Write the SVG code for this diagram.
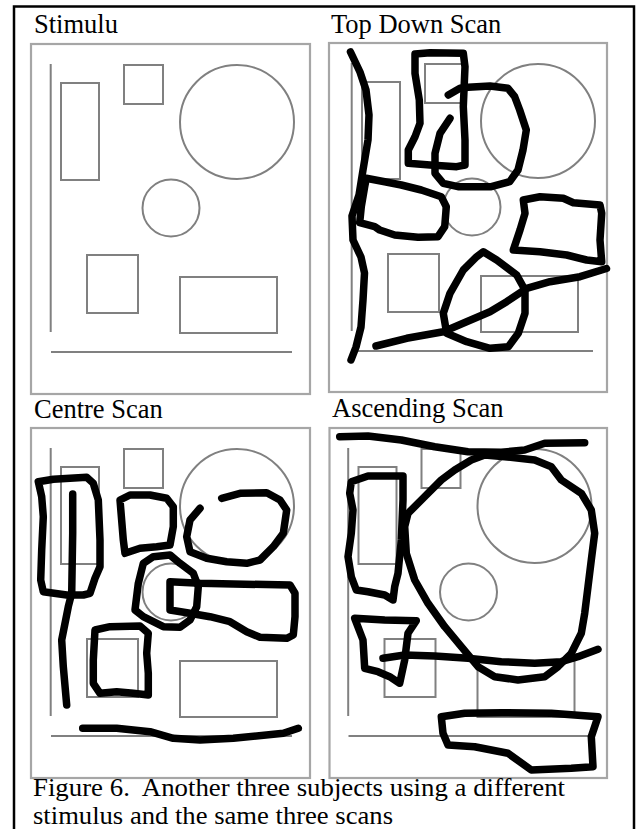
<svg xmlns="http://www.w3.org/2000/svg" xmlns:xlink="http://www.w3.org/1999/xlink" width="638" height="829" viewBox="0 0 638 829">
<style>
.lbl{font-family:"Liberation Serif","Times New Roman",serif;font-size:26.5px;fill:#000}
.cap{font-family:"Liberation Serif","Times New Roman",serif;font-size:25px;fill:#000}
.frame{fill:none;stroke:#a6a6a6;stroke-width:2.2}
.shp{fill:none;stroke:#808080;stroke-width:2}
.scr{fill:none;stroke:#000;stroke-width:7.5;stroke-linecap:round;stroke-linejoin:round}
</style>
<defs>
<g id="stim">
<line class="shp" x1="50.7" y1="64" x2="50.7" y2="332"/>
<rect class="shp" x="61" y="83" width="38" height="97"/>
<rect class="shp" x="124" y="65" width="39" height="39"/>
<circle class="shp" cx="237" cy="122" r="57"/>
<circle class="shp" cx="171" cy="208" r="28.5"/>
<rect class="shp" x="87" y="255" width="51" height="58"/>
<rect class="shp" x="180" y="277" width="97" height="56"/>
<line class="shp" x1="51" y1="352" x2="292" y2="352"/>
</g>
</defs>
<rect id="border" x="14" y="6.5" width="620" height="840" fill="#fff" stroke="#000" stroke-width="2.5"/>

<g id="stimulus">
<text class="lbl" x="34" y="33">Stimulu</text>
<rect class="frame" x="31" y="44" width="279" height="350"/>
<use xlink:href="#stim"/>
</g>

<g id="top-down">
<text class="lbl" x="331" y="33">Top Down Scan</text>
<rect class="frame" x="329" y="43" width="278" height="349"/>
<use xlink:href="#stim" transform="translate(301,-1)"/>
<g class="scans">
<path class="scr" d="M350.5,52 L360,72 L366,90 L369,115 L368,140 L363,170 L359,195 L352,216 L353,240 L361,257 L364.5,273 L363,300 L361,327 L356,347 L351,360"/>
<path class="scr" d="M415,54 L430,52.7 L463.3,53.3 L465,66.7 L463.3,106.7 L465,140 L465,165 L456.7,166.7 L430,165 L408.3,163.3 L408.3,150 L415,136.7 L420,123.3 L419.3,100 L415,73.3 Z"/>
<path class="scr" d="M450,118.3 L440,133.3 L435,153.3 L435,173.3 L443.3,183.3 L458,186.7 L491.3,186.7 L509.7,181.7 L518,170 L523,150 L526.3,130 L519.7,110 L514.7,96.7 L508,88.3 L490,86 L468,87.3 L460,88.3 L448.3,95"/>
<path class="scr" d="M366.3,178.3 L384.7,181.7 L401.3,185 L421.3,190 L441.3,196.7 L446.3,206.7 L444.7,226.7 L438,236.7 L418,237.3 L394.7,235 L379.7,230 L374.7,226.7 L359.7,222.7 L361.3,206.7 L364.7,186.7 Z"/>
<path class="scr" d="M523.3,200 L540,196.7 L563.3,198.3 L573.3,202.7 L600,205 L601.7,213.3 L600,240 L601.7,261.7 L586.7,260 L566.7,255 L540,251.7 L513.3,250 L520,230 L525,213.3 Z"/>
<path class="scr" d="M483.3,251.7 L496.7,260 L516.7,275 L525,290 L525,313.3 L518.3,333.3 L508.3,346.7 L490,348.3 L466.7,341.7 L446.7,333.3 L443.3,313.3 L450,293.3 L463.3,270 L476.7,256.7 Z"/>
<path class="scr" d="M376,346 L406.7,338.3 L443.3,331.7 L466,322 L490,311.7 L506.7,301.7 L526.7,288.3 L550,281.7 L580,276.7 L606.5,268.5"/>
</g>
</g>

<g id="centre">
<text class="lbl" x="34" y="418">Centre Scan</text>
<rect class="frame" x="31" y="428" width="279" height="350"/>
<use xlink:href="#stim" transform="translate(0,384)"/>
<g class="scans">
<path class="scr" d="M38.3,481.7 L53.3,479.3 L86.7,477.3 L93.3,483.3 L98.3,500 L100,540 L100,566.7 L95,578.3 L90,593.3 L83.3,595 L66.7,595 L43.3,591.7 L40.7,580 L41.7,550 L43.3,516.7 L41.7,496.7 Z"/>
<path class="scr" d="M72.7,494 L72.7,533.3 L71.7,593.3 L68.3,606.7 L61.7,640 L63.3,666.7 L66.7,705"/>
<path class="scr" d="M120,500 L130,495 L150,495 L166.7,498.3 L173.3,506.7 L173.3,526.7 L170,545 L156.7,546.7 L140,548.3 L125,553.3 L123.3,540 Z"/>
<path class="scr" d="M221.7,498.3 L240,493.3 L266.7,492.7 L280,500 L286.7,510 L283.3,533.3 L273.3,546.7 L260,560 L246.7,563.3 L226.7,561.7 L206.7,558.3 L190,551.7 L186.7,536.7 L190,520 L200,508.3"/>
<path class="scr" d="M170,555 L180,563.3 L193.3,573.3 L198.3,586.7 L196.7,606.7 L190,620 L180,627.3 L163.3,626.7 L143.3,616.7 L135,610 L138.3,583.3 L143.3,563.3 L153.3,556.7 Z"/>
<path class="scr" d="M170,581.7 L200,583.3 L233.3,584 L290,585 L295,593.3 L295,616.7 L293.3,635 L286.7,638.3 L260,637.3 L246.7,631.7 L230,621.7 L210,616.7 L190,613.3 L170,610 Z"/>
<path class="scr" d="M95,630 L110,626.7 L140,626 L148.3,633.3 L146.7,653.3 L148.3,673.3 L148.3,695 L133.3,693.3 L116.7,691.7 L100,693.3 L93.3,683.3 L93.3,660 Z"/>
<path class="scr" d="M82.7,728.3 L116.7,728.3 L150,731.7 L173.3,738.3 L200,740 L233.3,738.3 L283.3,733.3 L298.3,728.3"/>
</g>
</g>

<g id="ascending">
<text class="lbl" x="332" y="417">Ascending Scan</text>
<rect class="frame" x="329.5" y="428" width="277.5" height="350"/>
<use xlink:href="#stim" transform="translate(297.5,384)"/>
<g class="scans">
<path class="scr" d="M339.7,436.7 L368,436 L401.3,440 L434.7,446.7 L468,451.7 L501.3,452.3 L524.7,450 L544.7,443.3 L584.7,442.7"/>
<path class="scr" d="M408,513.3 L424.7,496.7 L441.3,480 L454.7,470 L471.3,460 L484.7,455 L504.7,456.7 L534.7,460 L551.3,466.7 L561.3,480 L581.3,493.3 L591.3,510 L594.7,533.3 L591.3,560 L588,586.7 L584.7,613.3 L581.3,633.3 L571.3,653.3 L558,666.7 L544.7,676.7 L518,680 L494.7,676.7 L478,666.7 L461.3,646.7 L444.7,626.7 L428,603.3 L414.7,580 L406.3,553.3 L404.7,526.7 Z"/>
<path class="scr" d="M383,658.3 L404.7,655 L434.7,656 L468,658.3 L501.3,661.7 L534.7,663.3 L561.3,661.7 L578,656.7 L598,649.3"/>
<path class="scr" d="M351.3,481.7 L368,476 L403,476 L403,500 L401.3,540 L398,573.3 L394.7,586.7 L393,600 L384.7,595 L368,591.7 L356.3,590 L351.3,576.7 L348,556.7 L351.3,533.3 L353,510 L349.7,493.3 Z"/>
<path class="scr" d="M354.7,618.3 L384.7,620 L416.3,620.7 L408,633.3 L404.7,660 L399.7,683.3 L389.7,676.7 L378,671.7 L364.7,668.3 L363,640 Z"/>
<path class="scr" d="M441.3,716.7 L464.7,713.3 L501.3,712.7 L551.3,713.3 L598,716.7 L591.3,736.7 L593,766.7 L571.3,768.3 L531.3,770 L508,753.3 L474.7,746.7 L448,745 L443,733.3 Z"/>
</g>
</g>

<g id="caption">
<text class="cap" x="33" y="795.5" xml:space="preserve" textLength="532" lengthAdjust="spacingAndGlyphs">Figure 6.  Another three subjects using a different</text>
<text class="cap" x="33" y="823.5" textLength="360" lengthAdjust="spacingAndGlyphs">stimulus and the same three scans</text>
</g>
</svg>
